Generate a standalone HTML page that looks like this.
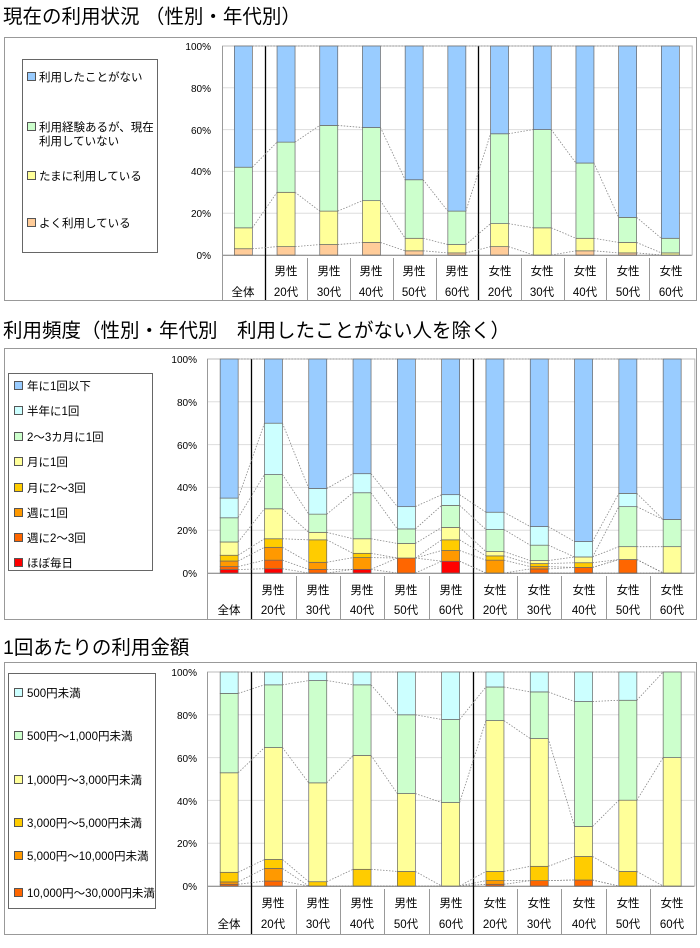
<!DOCTYPE html>
<html><head><meta charset="utf-8"><style>
body{margin:0;background:#fff;}
svg{display:block;font-family:"Liberation Sans","Noto Sans CJK JP",sans-serif;}
.t{font-size:19.5px;fill:#000}
.ax{font-size:10px;fill:#000;text-anchor:end}
.lg{font-size:11.5px;fill:#000}
.cl{font-size:11.5px;fill:#000;text-anchor:middle}
</style></head><body>
<svg id="s" width="700" height="948" xmlns="http://www.w3.org/2000/svg">
<rect width="700" height="948" fill="#fff"/>
<text class="t" x="3" y="23">現在の利用状況 （性別・年代別）</text>
<text class="t" x="3" y="337">利用頻度（性別・年代別　利用したことがない人を除く）</text>
<text class="t" x="3" y="654">1回あたりの利用金額</text>
<rect x="4.5" y="37.5" width="692" height="263" fill="none" stroke="#999"/>
<rect x="4.5" y="348.5" width="692" height="271" fill="none" stroke="#999"/>
<rect x="4.5" y="662.5" width="692" height="272" fill="none" stroke="#999"/>
<rect x="22.5" y="59.5" width="135" height="193" fill="#fff" stroke="#666"/>
<rect x="27.5" y="72.5" width="8" height="8" fill="#99CCFF" stroke="#555"/><text class="lg" x="39" y="81">利用したことがない</text>
<rect x="27.5" y="122.5" width="8" height="8" fill="#CCFFCC" stroke="#555"/><text class="lg" x="39" y="131">利用経験あるが、現在</text><text class="lg" x="39" y="145">利用していない</text>
<rect x="27.5" y="171.5" width="8" height="8" fill="#FFFF99" stroke="#555"/><text class="lg" x="39" y="180">たまに利用している</text>
<rect x="27.5" y="218.5" width="8" height="8" fill="#FFCC99" stroke="#555"/><text class="lg" x="39" y="227">よく利用している</text>
<rect x="8.5" y="373.5" width="144" height="197" fill="#fff" stroke="#666"/>
<rect x="14.5" y="381.5" width="8" height="8" fill="#99CCFF" stroke="#555"/><text class="lg" x="27" y="390">年に1回以下</text>
<rect x="14.5" y="406.5" width="8" height="8" fill="#CCFFFF" stroke="#555"/><text class="lg" x="27" y="415">半年に1回</text>
<rect x="14.5" y="432.5" width="8" height="8" fill="#CCFFCC" stroke="#555"/><text class="lg" x="27" y="441">2～3カ月に1回</text>
<rect x="14.5" y="457.5" width="8" height="8" fill="#FFFF99" stroke="#555"/><text class="lg" x="27" y="466">月に1回</text>
<rect x="14.5" y="483.5" width="8" height="8" fill="#FFCC00" stroke="#555"/><text class="lg" x="27" y="492">月に2～3回</text>
<rect x="14.5" y="508.5" width="8" height="8" fill="#FF9900" stroke="#555"/><text class="lg" x="27" y="517">週に1回</text>
<rect x="14.5" y="533.5" width="8" height="8" fill="#FF6600" stroke="#555"/><text class="lg" x="27" y="542">週に2～3回</text>
<rect x="14.5" y="558.5" width="8" height="8" fill="#FF0000" stroke="#555"/><text class="lg" x="27" y="567">ほぼ毎日</text>
<rect x="8.5" y="673.5" width="147" height="235" fill="#fff" stroke="#666"/>
<rect x="14.5" y="688.5" width="8" height="8" fill="#CCFFFF" stroke="#555"/><text class="lg" x="27" y="697">500円未満</text>
<rect x="14.5" y="731.5" width="8" height="8" fill="#CCFFCC" stroke="#555"/><text class="lg" x="27" y="740">500円～1,000円未満</text>
<rect x="14.5" y="775.5" width="8" height="8" fill="#FFFF99" stroke="#555"/><text class="lg" x="27" y="784">1,000円～3,000円未満</text>
<rect x="14.5" y="818.5" width="8" height="8" fill="#FFCC00" stroke="#555"/><text class="lg" x="27" y="827">3,000円～5,000円未満</text>
<rect x="14.5" y="851.5" width="8" height="8" fill="#FF9900" stroke="#555"/><text class="lg" x="27" y="860">5,000円～10,000円未満</text>
<rect x="14.5" y="888.5" width="8" height="8" fill="#FF6600" stroke="#555"/><text class="lg" x="27" y="897">10,000円～30,000円未満</text>
<g class="ax">
<text x="211" y="50">100%</text><text x="211" y="92">80%</text><text x="211" y="134">60%</text><text x="211" y="175">40%</text><text x="211" y="217">20%</text><text x="211" y="259">0%</text>
<text x="197" y="363">100%</text><text x="197" y="406">80%</text><text x="197" y="449">60%</text><text x="197" y="491">40%</text><text x="197" y="534">20%</text><text x="197" y="577">0%</text>
<text x="197" y="676">100%</text><text x="197" y="719">80%</text><text x="197" y="762">60%</text><text x="197" y="805">40%</text><text x="197" y="847">20%</text><text x="197" y="890">0%</text>
</g>
<g class="cl">
<text x="243" y="296">全体</text>
<text x="286" y="275">男性</text><text x="286" y="296">20代</text>
<text x="329" y="275">男性</text><text x="329" y="296">30代</text>
<text x="371" y="275">男性</text><text x="371" y="296">40代</text>
<text x="414" y="275">男性</text><text x="414" y="296">50代</text>
<text x="457" y="275">男性</text><text x="457" y="296">60代</text>
<text x="500" y="275">女性</text><text x="500" y="296">20代</text>
<text x="542" y="275">女性</text><text x="542" y="296">30代</text>
<text x="585" y="275">女性</text><text x="585" y="296">40代</text>
<text x="628" y="275">女性</text><text x="628" y="296">50代</text>
<text x="671" y="275">女性</text><text x="671" y="296">60代</text>
<text x="229" y="614">全体</text>
<text x="273" y="594">男性</text><text x="273" y="614">20代</text>
<text x="318" y="594">男性</text><text x="318" y="614">30代</text>
<text x="362" y="594">男性</text><text x="362" y="614">40代</text>
<text x="406" y="594">男性</text><text x="406" y="614">50代</text>
<text x="451" y="594">男性</text><text x="451" y="614">60代</text>
<text x="495" y="594">女性</text><text x="495" y="614">20代</text>
<text x="539" y="594">女性</text><text x="539" y="614">30代</text>
<text x="584" y="594">女性</text><text x="584" y="614">40代</text>
<text x="628" y="594">女性</text><text x="628" y="614">50代</text>
<text x="672" y="594">女性</text><text x="672" y="614">60代</text>
<text x="229" y="928">全体</text>
<text x="273" y="907">男性</text><text x="273" y="928">20代</text>
<text x="318" y="907">男性</text><text x="318" y="928">30代</text>
<text x="362" y="907">男性</text><text x="362" y="928">40代</text>
<text x="406" y="907">男性</text><text x="406" y="928">50代</text>
<text x="451" y="907">男性</text><text x="451" y="928">60代</text>
<text x="495" y="907">女性</text><text x="495" y="928">20代</text>
<text x="539" y="907">女性</text><text x="539" y="928">30代</text>
<text x="584" y="907">女性</text><text x="584" y="928">40代</text>
<text x="628" y="907">女性</text><text x="628" y="928">50代</text>
<text x="672" y="907">女性</text><text x="672" y="928">60代</text>
</g>
<g id="g"></g>
</svg>
<script>
var NS="http://www.w3.org/2000/svg",G=document.getElementById("g");
function el(n,a){var e=document.createElementNS(NS,n);for(var k in a)e.setAttribute(k,a[k]);G.appendChild(e);return e;}
function chart(c){
 var L=c.left,w=c.w,R=L+11*w,y0=c.y0,y1=c.y1,h=y0-y1,bw=c.bw;
 for(var i=1;i<=5;i++){var y=y0-h*i/5;el("line",{x1:L,x2:R,y1:y,y2:y,stroke:"#ddd"});}
 el("line",{x1:L,x2:R,y1:y1,y2:y1,stroke:"#999","stroke-dasharray":"1,2"});
 el("rect",{x:L+.5,y:y1,width:R-L,height:h,fill:"none",stroke:"#bbb"});
 el("line",{x1:L+.5,x2:L+.5,y1:y1,y2:c.bot,stroke:"#999"});
 el("line",{x1:L,x2:R,y1:y0+.5,y2:y0+.5,stroke:"#999"});
 for(var i=1;i<11;i++){var x=Math.round(L+i*w)+.5;
  if(i==1||i==6)el("line",{x1:x,x2:x,y1:y1,y2:c.bot,stroke:"#000","stroke-width":1.3});
  else el("line",{x1:x,x2:x,y1:y0+3,y2:c.bot,stroke:"#999"});}
 var d=c.d,col=c.col;
 for(var i=0;i<11;i++){
  var cx=L+w*(i+.5),bx=cx-bw/2,prev=0,arr=d[i].concat([100]);
  for(var j=0;j<arr.length;j++){var v=arr[j];if(v>prev){el("rect",{x:bx,y:y0-h*v/100,width:bw,height:h*(v-prev)/100,fill:col[j],stroke:"#666","stroke-width":.7});}prev=Math.max(prev,v);}
  if(i<10){var nx=L+w*(i+1.5)-bw/2,a2=d[i+1].concat([100]);
   for(var j=0;j<arr.length;j++)el("line",{x1:bx+bw,x2:nx,y1:y0-h*arr[j]/100,y2:y0-h*a2[j]/100,stroke:"#888","stroke-width":.8,"stroke-dasharray":"1.5,1.5"});}
 }
}
chart({left:222,w:42.7,y0:255,y1:46,bw:18,bot:300,col:["#FFCC99","#FFFF99","#CCFFCC","#99CCFF"],
d:[[3,13,42],[4,30,54],[5,21,62],[6,26,61],[2,8,36],[1,5,21],[4,15,58],[0,13,60],[2,8,44],[1,6,18],[0,1,8]]});
chart({left:207,w:44.3,y0:573,y1:359,bw:18,bot:619,col:["#FF0000","#FF6600","#FF9900","#FFCC00","#FFFF99","#CCFFCC","#CCFFFF","#99CCFF"],
d:[[1.6,3,5.6,8.3,14.5,25.8,35],[2,6,12,16,30,46,70],[0,1.7,5,15.5,19,27.5,39.5],[1.7,1.7,7.2,9.2,16,37.5,46.4],[0,7,7,7,13.8,20.6,31],[5.5,5.5,10.5,15.5,21.3,31.6,36.6],[0,0,6,8,10,20.3,28.4],[0,1.9,3,4.4,5.8,13,21.7],[0,2.6,2.6,4.8,7.5,7.5,14.7],[0,6.3,6.3,6.3,12.3,31,37.2],[0,0,0,0,12.3,25,25]]});
chart({left:207,w:44.3,y0:886,y1:672,bw:18,bot:934,col:["#FF6600","#FF9900","#FFCC00","#FFFF99","#CCFFCC","#CCFFFF"],
d:[[0.8,1.9,6.4,52.9,90],[2.3,8.2,12.4,64.7,94],[0,0,2,48.2,96],[0,0,7.8,61,94],[0,0,6.8,43.2,80],[0,0,0,39,77.8],[0.8,2.5,6.8,77.3,93],[2.5,2.5,9.2,68.9,90.7],[2.8,2.8,13.8,27.8,86.2],[0,0,6.8,40.1,86.8],[0,0,0,60,100]]});
</script>
</body></html>
